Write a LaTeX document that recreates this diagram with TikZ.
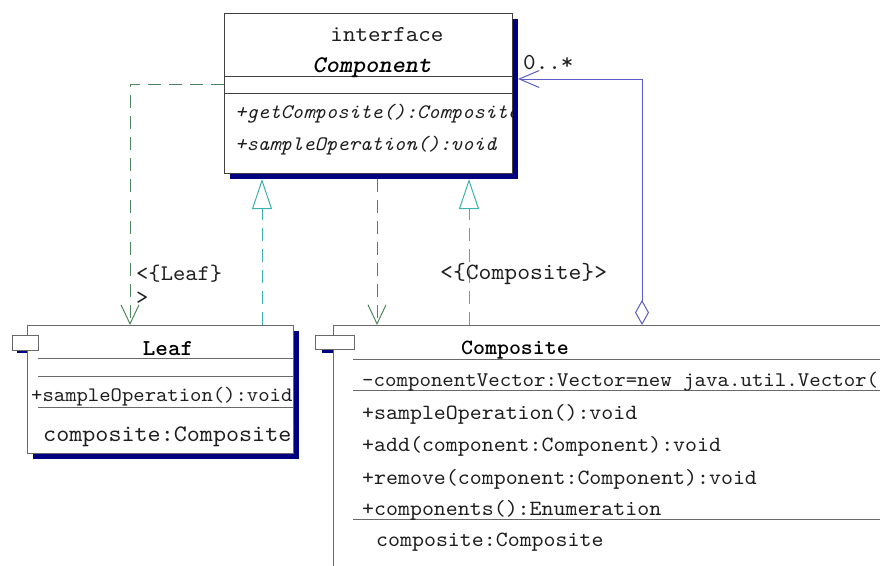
\documentclass[tikz,border=0pt]{standalone}
\usepackage{fontspec}
\usetikzlibrary{arrows.meta,shadows}
% typewriter face with slab serifs, slightly widened
\newfontfamily\umlfont[Extension=.otf,
  UprightFont=lmmono10-regular,
  ItalicFont=lmmono10-italic,
  BoldFont=lmmonolt10-bold,
  BoldItalicFont=lmmonolt10-boldoblique,
  FakeStretch=1.05]{lmmono10-regular}

\definecolor{depgreen}{RGB}{78,134,94}
\definecolor{realteal}{RGB}{62,176,176}
\definecolor{aggblue}{RGB}{92,92,200}
\definecolor{shadownavy}{RGB}{0,0,128}
\definecolor{framegrey}{RGB}{105,105,105}
\definecolor{textgrey}{RGB}{30,30,30}

\tikzset{
  classbox/.style={draw=framegrey, fill=white, line width=1pt, inner sep=0pt,
    anchor=north west,
    drop shadow={shadow xshift=5pt, shadow yshift=-5pt, fill=shadownavy, opacity=1}},
  tabbox/.style={draw=framegrey, fill=white, line width=1pt, inner sep=0pt,
    anchor=north west},
  sepline/.style={draw=framegrey, line width=1pt},
  txt/.style={inner sep=0pt, text=textgrey, anchor=base west},
  head/.style={inner sep=0pt, text=black, anchor=base},
  dep/.style={draw=depgreen, line width=1pt, dash pattern=on 13pt off 8pt,
    -{Straight Barb[length=19pt, width=18pt, line width=1pt]}},
  real/.style={draw=realteal, line width=1pt, dash pattern=on 13pt off 8pt,
    -{Triangle[open, length=30pt, width=20pt, line width=1pt, fill=white]}},
  agg/.style={draw=aggblue, line width=1pt,
    {Diamond[open, length=25pt, width=14pt, line width=1pt]}-{Straight Barb[length=20pt, width=17pt, line width=1pt]}},
}

\begin{document}
\begin{tikzpicture}[x=1pt, y=-1pt]
\useasboundingbox (0,0) rectangle (880,565);
\clip (0,0) rectangle (880,565);

% shadows of the component tabs (mostly hidden behind the boxes)
\fill[shadownavy] (17,338) rectangle (43,353);
\fill[shadownavy] (322,338) rectangle (360,353);

% ---------- class boxes ----------
\node[classbox, draw=black!75, minimum width=288pt, minimum height=160pt] (comp) at (224,13) {};
\node[classbox, minimum width=266pt, minimum height=128pt] (leaf) at (27,325) {};
\node[classbox, minimum width=600pt, minimum height=300pt] (cmp) at (333,325) {};

% component tabs
\node[tabbox, minimum width=26pt, minimum height=15pt] (leaftab) at (12,335) {};
\node[tabbox, minimum width=39pt, minimum height=14pt] (cmptab) at (315,335) {};

% ---------- Component (interface) ----------
\draw[sepline, draw=black!75] (224,76) -- (512,76);
\draw[sepline, draw=black!75] (224,93) -- (512,93);
\node[head, font=\umlfont\fontsize{22.8}{26}\selectfont, text=textgrey] (ifc) at (387,41) {interface};
\node[head, font=\umlfont\bfseries\itshape\fontsize{23.9}{27}\selectfont] (compname) at (372,72) {Component};
\begin{scope}
  \clip (224,13) rectangle (512,173);
  \node[txt, font=\umlfont\itshape\fontsize{20.6}{24}\selectfont] (cm1) at (235,118) {+getComposite():Composite};
  \node[txt, font=\umlfont\itshape\fontsize{20.6}{24}\selectfont] (cm2) at (235,150) {+sampleOperation():void};
\end{scope}

% ---------- Leaf ----------
\draw[sepline] (38,358) -- (293,358);
\draw[sepline] (38,376) -- (293,376);
\draw[sepline] (38,407) -- (293,407);
\node[head, font=\umlfont\bfseries\fontsize{22.8}{26}\selectfont] (leafname) at (168,355) {Leaf};
\node[txt, font=\umlfont\fontsize{20.6}{24}\selectfont] (lm1) at (31,401) {+sampleOperation():void};
\node[txt, font=\umlfont\fontsize{23.7}{26}\selectfont] (la1) at (43,441) {composite:Composite};

% ---------- Composite ----------
\draw[sepline] (353,359) -- (880,359);
\draw[sepline] (353,390) -- (880,390);
\draw[sepline] (353,519) -- (880,519);
\node[head, font=\umlfont\bfseries\fontsize{21.7}{26}\selectfont] (cmpname) at (515,354) {Composite};
\node[txt, font=\umlfont\fontsize{20.8}{24}\selectfont] (ca1) at (362,386) {-componentVector:Vector=new java.util.Vector(};
\node[txt, font=\umlfont\fontsize{21.7}{26}\selectfont] (cx1) at (362,419) {+sampleOperation():void};
\node[txt, font=\umlfont\fontsize{21.7}{26}\selectfont] (cx2) at (362,451) {+add(component:Component):void};
\node[txt, font=\umlfont\fontsize{21.7}{26}\selectfont] (cx3) at (362,484) {+remove(component:Component):void};
\node[txt, font=\umlfont\fontsize{21.7}{26}\selectfont] (cx4) at (362,515) {+components():Enumeration};
\node[txt, font=\umlfont\fontsize{21.7}{26}\selectfont] (ca2) at (376,546) {composite:Composite};

% ---------- connectors ----------
% dependency Component -> Leaf
\coordinate (leafbend) at (130,84);
\draw[dep] (comp.west |- leafbend) -- (leafbend) -- (leafbend |- leaf.north);
% realization Leaf -> Component
\coordinate (leafreal) at (262,0);
\draw[real, shorten >=5pt] (leafreal |- leaf.north) -- (leafreal |- comp.south);
% dependency Component -> Composite
\coordinate (cmpdep) at (377,0);
\draw[dep, shorten <=5pt] (cmpdep |- comp.south) -- (cmpdep |- cmp.north);
% realization Composite -> Component
\coordinate (cmpreal) at (469,0);
\draw[real, shorten >=5pt] (cmpreal |- cmp.north) -- (cmpreal |- comp.south);
% aggregation Composite <>-> Component
\coordinate (aggbend) at (642,79);
\draw[agg, shorten >=5pt] (aggbend |- cmp.north) -- (aggbend) -- (comp.east |- aggbend);

% ---------- connector labels ----------
\node[txt, align=left, font=\umlfont\fontsize{22.3}{24}\selectfont] (leaflbl) at (136,304) {<\{Leaf\}\\>};
\node[txt, font=\umlfont\fontsize{23.3}{26}\selectfont] (cmplbl) at (440,279) {<\{Composite\}>};
\node[txt, font=\umlfont\fontsize{22.8}{26}\selectfont] (multlbl) at (523,69) {0..*};
\end{tikzpicture}
\end{document}
